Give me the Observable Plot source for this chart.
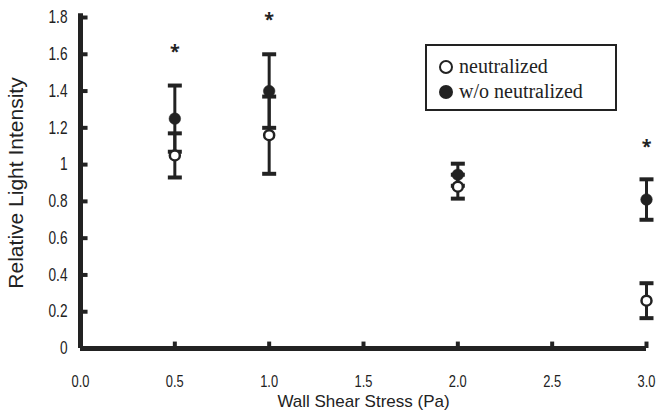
<!DOCTYPE html>
<html>
<head>
<meta charset="utf-8">
<script src="https://cdn.jsdelivr.net/npm/d3@7"></script>
<script src="https://cdn.jsdelivr.net/npm/@observablehq/plot@0.6"></script>
<style>
  html, body { margin: 0; padding: 0; background: #fff; }
  #chart { position: relative; width: 659px; height: 412px; }
  #legend {
    position: absolute; left: 425px; top: 44px; width: 176px; height: 63px;
    border: 2px solid #222; background: #fff;
    font-family: "Liberation Serif", "Times New Roman", serif; font-size: 20px; color: #222;
    padding-left: 12px; box-sizing: content-box;
  }
  #legend .row { display: flex; align-items: center; height: 25px; }
  #legend .row:first-child { margin-top: 8px; }
  #legend .sym { width: 14px; height: 14px; border-radius: 50%; box-sizing: border-box; margin-right: 6px; }
</style>
</head>
<body>
<div id="chart"></div>
<script>
// Shear stress levels (Pa)
const stress = [0.5, 1.0, 2.0, 3.0];
// Relative light intensity, neutralized group (mean and error)
const neutralized = [1.05, 1.16, 0.88, 0.26];
const neutralizedErr = [0.12, 0.21, 0.065, 0.095];
// Relative light intensity, without neutralization (mean and error)
const withoutNeutralized = [1.25, 1.40, 0.945, 0.81];
const withoutErr = [0.18, 0.20, 0.06, 0.11];
// Significance markers
const starStress = [0.5, 1.0, 3.0];
const starLevel = [1.63, 1.80, 1.11];
// Axis ticks and labels
const xTicks = [0, 0.5, 1.0, 1.5, 2.0, 2.5, 3.0];
const xTickLabels = ["0.0", "0.5", "1.0", "1.5", "2.0", "2.5", "3.0"];
const yTicks = [0, 0.2, 0.4, 0.6, 0.8, 1.0, 1.2, 1.4, 1.6, 1.8];
const yTickLabels = ["0", "0.2", "0.4", "0.6", "0.8", "1", "1.2", "1.4", "1.6", "1.8"];
const xTitle = "Wall Shear Stress (Pa)";
const yTitle = "Relative Light Intensity";
const seriesNames = ["neutralized", "w/o neutralized"];

const ink = "#222";
const sans = "'Liberation Sans', Arial, sans-serif";

const open = stress.map((x, i) => ({x, y: neutralized[i], e: neutralizedErr[i]}));
const filled = stress.map((x, i) => ({x, y: withoutNeutralized[i], e: withoutErr[i]}));
const stars = starStress.map((x, i) => ({x, y: starLevel[i]}));

// Horizontal bar used for error-bar caps
const capSymbol = {
  draw(ctx, size) {
    const w = Math.sqrt(size / Math.PI);
    ctx.moveTo(-w, 0);
    ctx.lineTo(w, 0);
  }
};

function errorMarks(data) {
  return [
    Plot.link(data, {x1: "x", x2: "x", y1: d => d.y - d.e, y2: d => d.y + d.e, stroke: ink, strokeWidth: 3}),
    Plot.dot(data, {x: "x", y: d => d.y + d.e, symbol: capSymbol, r: 7, stroke: ink, strokeWidth: 4, strokeLinecap: "butt"}),
    Plot.dot(data, {x: "x", y: d => d.y - d.e, symbol: capSymbol, r: 7, stroke: ink, strokeWidth: 4, strokeLinecap: "butt"})
  ];
}

const chart = Plot.plot({
  width: 659,
  height: 412,
  marginLeft: 80,
  marginRight: 13,
  marginTop: 17,
  marginBottom: 64,
  style: {background: "#fff", color: ink},
  x: {domain: [0, 3]},
  y: {domain: [0, 1.8]},
  marks: [
    Plot.axisY(yTicks, {tickSize: 0, tickPadding: 13, tickFormat: (d, i) => yTickLabels[i], fontSize: 18, fontFamily: sans, fill: ink, label: null}),
    Plot.axisX(xTicks, {tickSize: 0, tickPadding: 26, tickFormat: (d, i) => xTickLabels[i], fontSize: 17, fontFamily: sans, fill: ink, label: null}),
    // inward tick marks
    Plot.ruleY(yTicks, {x1: 0, x2: 0.04, stroke: ink, strokeWidth: 4}),
    Plot.ruleX(xTicks, {y1: 0, y2: 0.035, stroke: ink, strokeWidth: 4}),
    // axis lines
    Plot.ruleX([0], {stroke: ink, strokeWidth: 5, y1: 0, y2: 1.82}),
    Plot.ruleY([0], {stroke: ink, strokeWidth: 5}),
    ...errorMarks(filled),
    ...errorMarks(open),
    Plot.dot(open, {x: "x", y: "y", r: 5, fill: "#fff", stroke: ink, strokeWidth: 2.5}),
    Plot.dot(filled, {x: "x", y: "y", r: 5.8, fill: ink, stroke: ink, strokeWidth: 0.5}),
    Plot.text(stars, {x: "x", y: "y", text: () => "*", fontSize: 18, fontWeight: "bold", fill: ink, dy: 3}),
    Plot.text([yTitle], {frameAnchor: "left", textAnchor: "middle", rotate: -90, dx: -64, fontSize: 21, fontFamily: sans, fill: ink}),
    Plot.text([xTitle], {frameAnchor: "bottom", lineAnchor: "middle", dy: 53, fontSize: 17, fontFamily: sans, fill: ink, ariaLabel: "x title"})
  ]
});

// Condense tick labels and the horizontal title (narrow lettering)
chart.querySelectorAll('g[aria-label="x-axis tick label"] text, g[aria-label="y-axis tick label"] text').forEach(t => {
  const tr = t.getAttribute("transform") || "";
  t.setAttribute("transform", `${tr} scale(0.76,1)`);
});
chart.querySelectorAll('g[aria-label="x title"] text').forEach(t => {
  const tr = t.getAttribute("transform") || "";
  t.setAttribute("transform", `${tr} scale(0.97,1)`);
});

const root = document.getElementById("chart");
root.appendChild(chart);

// Legend box drawn over the plot area
const legend = document.createElement("div");
legend.id = "legend";
legend.innerHTML = seriesNames.map((name, i) =>
  `<div class="row"><span class="sym" style="${i === 0 ? `border:2px solid ${ink};background:#fff` : `background:${ink}`}"></span>${name}</div>`
).join("");
root.appendChild(legend);
</script>
</body>
</html>
